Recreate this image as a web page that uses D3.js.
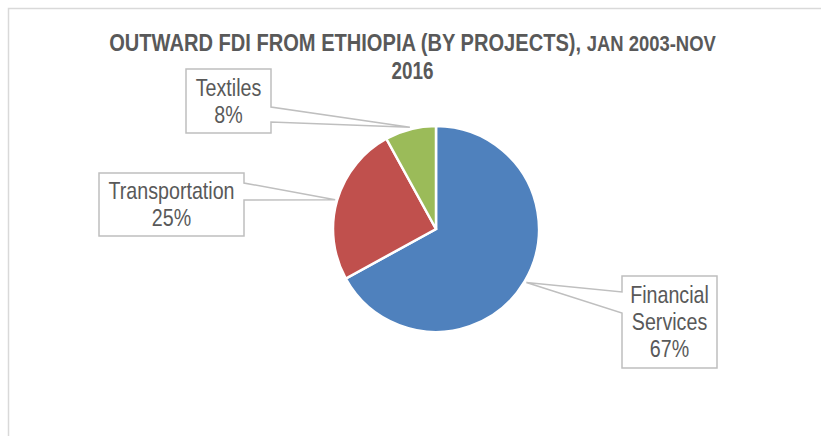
<!DOCTYPE html>
<html>
<head>
<meta charset="utf-8">
<script src="https://cdn.jsdelivr.net/npm/d3@7"></script>
<style>
  html, body { margin: 0; padding: 0; background: #fff; }
  svg { display: block; }
</style>
</head>
<body>
<svg id="chart" width="821" height="436"></svg>
<script>
// Outward FDI from Ethiopia by sector (share of projects)
const categories = ["Financial Services", "Transportation", "Textiles"];
const shares = [67, 25, 8];
const labelLines = [["Financial", "Services"], ["Transportation"], ["Textiles"]];
const titleMain = "OUTWARD FDI FROM ETHIOPIA (BY PROJECTS), ";
const titlePeriod = "JAN 2003-NOV";
const titleLine2 = "2016";

const colors = d3.scaleOrdinal()
  .domain(categories)
  .range(["#4F81BD", "#C0504D", "#9BBB59"]);

const W = 821, H = 436;
const cx = 436, cy = 229, R = 103;
const textColor = "#595959";
const narrow = 0.82;

const svg = d3.select("#chart");

// chart frame
svg.append("rect")
  .attr("x", 8.5).attr("y", 8.5)
  .attr("width", 840).attr("height", 500)
  .attr("fill", "#fff")
  .attr("stroke", "#D9D9D9")
  .attr("stroke-width", 1.5);

// title
const tg = svg.append("g")
  .attr("transform", `translate(412.5,0) scale(${narrow},1)`)
  .attr("font-family", "'Liberation Sans', Arial, sans-serif")
  .attr("font-weight", "bold")
  .attr("fill", textColor)
  .attr("text-anchor", "middle");
const t1 = tg.append("text").attr("x", 0).attr("y", 51).attr("font-size", 24.5);
t1.append("tspan").text(titleMain);
t1.append("tspan").attr("font-size", 22.5).text(titlePeriod);
tg.append("text").attr("x", 0).attr("y", 79).attr("font-size", 23).text(titleLine2);

// pie
const pie = d3.pie().sort(null).value(d => d.value).startAngle(0).endAngle(2 * Math.PI);
const arcs = pie(categories.map((c, i) => ({ name: c, value: shares[i] })));
const arc = d3.arc().innerRadius(0).outerRadius(R);

const pg = svg.append("g").attr("transform", `translate(${cx},${cy})`);
pg.selectAll("path.slice")
  .data(arcs)
  .join("path")
  .attr("class", "slice")
  .attr("d", arc)
  .attr("fill", d => colors(d.data.name))
  .attr("stroke", "#fff")
  .attr("stroke-width", 2.5)
  .attr("stroke-linejoin", "miter");

// callout boxes: box extents and where the pointer leaves the box side
const boxes = [
  { x0: 622, y0: 276, x1: 717, y1: 368, side: "left", b1: 292, b2: 313 },
  { x0: 99, y0: 173, x1: 244, y1: 236, side: "right", b1: 183, b2: 200 },
  { x0: 186, y0: 69, x1: 271, y1: 133, side: "right", b1: 107, b2: 122 }
];
const tipArc = d3.arc().innerRadius(R + 2).outerRadius(R + 2);

arcs.forEach((a, i) => {
  const b = boxes[i];
  const [tx, ty] = tipArc.centroid(a);
  const px = cx + tx, py = cy + ty;
  let d;
  if (b.side === "right") {
    d = `M${b.x0},${b.y0}H${b.x1}V${b.b1}L${px},${py}L${b.x1},${b.b2}V${b.y1}H${b.x0}Z`;
  } else {
    d = `M${b.x0},${b.y0}H${b.x1}V${b.y1}H${b.x0}V${b.b2}L${px},${py}L${b.x0},${b.b1}Z`;
  }
  svg.append("path")
    .attr("d", d)
    .attr("fill", "#fff")
    .attr("stroke", "#BFBFBF")
    .attr("stroke-width", 1.5)
    .attr("stroke-linejoin", "miter");

  const lines = labelLines[i].concat([`${shares[i]}%`]);
  const lh = 27;
  const midY = (b.y0 + b.y1) / 2;
  const firstBase = midY - (lines.length - 1) * lh / 2 + 8.5;
  const lg = svg.append("g")
    .attr("transform", `translate(${(b.x0 + b.x1) / 2},0) scale(${narrow},1)`)
    .attr("font-family", "'Liberation Sans', Arial, sans-serif")
    .attr("font-size", 24)
    .attr("fill", textColor)
    .attr("text-anchor", "middle");
  lines.forEach((ln, j) => {
    lg.append("text").attr("x", 0).attr("y", firstBase + j * lh).text(ln);
  });
});
</script>
</body>
</html>
